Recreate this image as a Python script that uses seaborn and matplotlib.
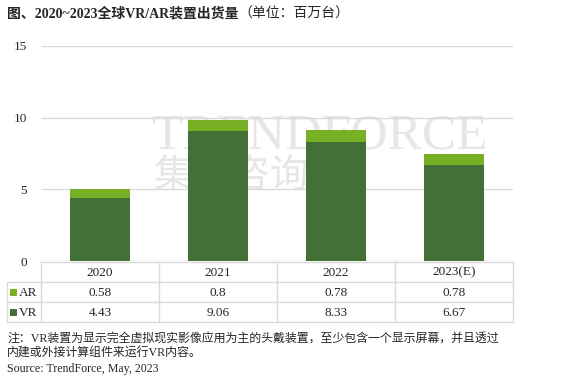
import matplotlib
matplotlib.use("Agg")
import matplotlib.pyplot as plt
import seaborn as sns
import pandas as pd
from matplotlib.lines import Line2D
from matplotlib.patches import Rectangle

# data
years = ["2020", "2021", "2022", "2023(E)"]
ar = [0.58, 0.8, 0.78, 0.78]
vr = [4.43, 9.06, 8.33, 6.67]
ar_labels = ["0.58", "0.8", "0.78", "0.78"]
vr_labels = ["4.43", "9.06", "8.33", "6.67"]

VR_COLOR = "#437034"
AR_COLOR = "#78B025"
GRID = "#d9d9d9"
FONTS = ["Liberation Serif", "Noto Sans CJK SC"]

df = pd.DataFrame({"year": years, "AR": ar, "VR": vr})
df["total"] = df["AR"] + df["VR"]

sns.set_style("white")
plt.rcParams["font.family"] = FONTS

fig = plt.figure(figsize=(5.61, 3.85), dpi=100)
W, H = 561, 385
ax = fig.add_axes([41 / W, 1 - 261 / H, (513 - 41) / W, (261 - 46) / H])

# stacked bars: total (AR on top) first, then VR over it
sns.barplot(data=df, x="year", y="total", color=AR_COLOR, width=0.51,
            saturation=1, linewidth=0, ax=ax, zorder=3)
sns.barplot(data=df, x="year", y="VR", color=VR_COLOR, width=0.51,
            saturation=1, linewidth=0, ax=ax, zorder=3)

ax.set_ylim(0, 15)
ax.set_xlim(-0.5, 3.5)
ax.set_yticks([0, 5, 10, 15])
ax.set_xticks([])
ax.set_xlabel("")
ax.set_ylabel("")
ax.yaxis.grid(True, color=GRID, linewidth=1)
ax.set_axisbelow(True)
for s in ax.spines.values():
    s.set_visible(False)
ax.tick_params(axis="y", length=0, pad=10, labelsize=9.5)

# watermark
ax.text(0.233, 0.58, "TRENDFORCE", transform=ax.transAxes, fontsize=37,
        family="Liberation Serif", color="#e6e6e6", va="center", ha="left",
        zorder=0.5)
ax.text(0.24, 0.39, "集邦咨询", transform=ax.transAxes, fontsize=28,
        family="Noto Sans CJK SC", color="#e6e6e6", va="center", ha="left",
        zorder=0.5)

# data table under the axes
def fx(px):
    return px / W

def fy(py):
    return 1 - py / H

col_edges = [41 + i * (513 - 41) / 4 for i in range(5)]
row_edges = [262, 282, 302, 322]
lw = 1.0
# horizontal lines
fig.add_artist(Line2D([fx(41), fx(513)], [fy(262), fy(262)], color=GRID, lw=lw))
for r in row_edges[1:]:
    fig.add_artist(Line2D([fx(6.5), fx(513)], [fy(r), fy(r)], color=GRID, lw=lw))
# vertical lines
for c in col_edges:
    fig.add_artist(Line2D([fx(c), fx(c)], [fy(262), fy(322)], color=GRID, lw=lw))
fig.add_artist(Line2D([fx(6.5), fx(6.5)], [fy(282), fy(322)], color=GRID, lw=lw))

for i in range(4):
    cx = fx((col_edges[i] + col_edges[i + 1]) / 2)
    fig.text(cx, fy(272.5), years[i], ha="center", va="center", fontsize=9.5)
    fig.text(cx, fy(292.5), ar_labels[i], ha="center", va="center", fontsize=9.5)
    fig.text(cx, fy(312.5), vr_labels[i], ha="center", va="center", fontsize=9.5)

for name, color, yc in [("AR", AR_COLOR, 292.5), ("VR", VR_COLOR, 312.5)]:
    fig.add_artist(Rectangle((fx(10), fy(yc + 3.5)), 7 / W, 7 / H,
                             facecolor=color, edgecolor="none",
                             transform=fig.transFigure))
    fig.text(fx(19), fy(yc), name, ha="left", va="center", fontsize=9.5)

# title
t1 = fig.text(fx(7), fy(14), "图、2020~2023全球VR/AR装置出货量", ha="left",
              va="center", fontsize=10, fontweight="bold")
fig.canvas.draw()
bb = t1.get_window_extent()
fig.text(bb.x1 / (fig.dpi * 5.61), fy(14), "（单位：百万台）", ha="left",
         va="center", fontsize=10)

# notes
fig.text(fx(7), fy(339), "注：VR装置为显示完全虚拟现实影像应用为主的头戴装置，至少包含一个显示屏幕，并且透过",
         ha="left", va="center", fontsize=8.6)
fig.text(fx(7), fy(354), "内建或外接计算组件来运行VR内容。", ha="left", va="center",
         fontsize=8.6)
fig.text(fx(7), fy(369), "Source: TrendForce, May, 2023", ha="left", va="center",
         fontsize=8.6)

fig.savefig("out.png", dpi=100)
